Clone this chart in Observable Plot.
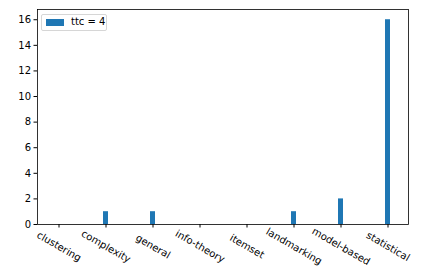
<!DOCTYPE html>
<html>
<head>
<meta charset="utf-8">
<script src="https://cdn.jsdelivr.net/npm/d3@7"></script>
<script src="https://cdn.jsdelivr.net/npm/@observablehq/plot@0.6"></script>
<style>
  html, body { margin: 0; padding: 0; background: #fff; }
  #wrap { position: relative; width: 436px; height: 276px; font-family: "DejaVu Sans", sans-serif; }
  #legend { position: absolute; left: 41px; top: 14px; width: 64px; height: 15px; border: 1px solid #d6d6d6; border-radius: 2px; background: rgba(255,255,255,0.8); }
  #legend .patch { position: absolute; left: 4px; top: 4px; width: 18px; height: 7px; background: #1f77b4; }
  #legend .label { position: absolute; left: 29px; top: 1px; font-size: 10px; line-height: 12px; color: #000; white-space: nowrap; }
</style>
</head>
<body>
<div id="wrap"></div>
<script>
const categories = ["clustering", "complexity", "general", "info-theory", "itemset", "landmarking", "model-based", "statistical"];
const values = [0, 1, 1, 0, 0, 1, 2, 16];
const yTicks = [0, 2, 4, 6, 8, 10, 12, 14, 16];
const seriesLabel = "ttc = 4";

const data = categories.map((c, i) => ({category: c, value: values[i]}));

const chart = Plot.plot({
  width: 436,
  height: 276,
  marginLeft: 37,
  marginRight: 28,
  marginTop: 9,
  marginBottom: 52,
  style: {fontFamily: "DejaVu Sans, sans-serif", fontSize: "10px", background: "#fff", color: "#000"},
  x: {domain: categories, paddingInner: 0.9, paddingOuter: 0.35},
  y: {domain: [0, 16.8]},
  marks: [
    Plot.barY(data.filter(d => d.value > 0), {x: "category", y: "value", fill: "#1f77b4"}),
    Plot.axisY({ticks: yTicks, tickSize: 3.5, tickPadding: 3, fontSize: 10, label: null, stroke: "#000", fill: "#000"}),
    Plot.axisX({tickSize: 3.5, tickFormat: () => "", label: null, stroke: "#000"}),
    Plot.text(categories, {x: d => d, y: 0, dy: 22, rotate: 30, textAnchor: "middle", lineAnchor: "middle", fontSize: 10, fill: "#000"}),
    Plot.frame({stroke: "#000", strokeWidth: 0.8})
  ]
});

const wrap = document.getElementById("wrap");
wrap.appendChild(chart);
const legend = document.createElement("div");
legend.id = "legend";
legend.innerHTML = `<div class="patch"></div><div class="label"></div>`;
legend.querySelector(".label").textContent = seriesLabel;
wrap.appendChild(legend);
</script>
</body>
</html>
